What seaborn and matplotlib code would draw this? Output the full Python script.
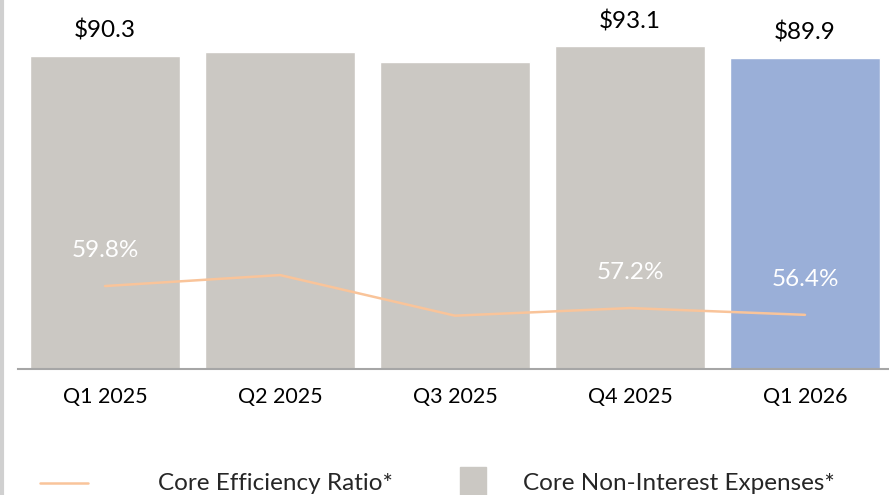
import numpy as np
import pandas as pd
import seaborn as sns
import matplotlib
matplotlib.use("Agg")
import matplotlib.pyplot as plt
from matplotlib.lines import Line2D
from matplotlib.patches import Rectangle

quarters = ["Q1 2025", "Q2 2025", "Q3 2025", "Q4 2025", "Q1 2026"]
expenses = [90.3, 91.5, 88.6, 93.1, 89.9]
efficiency = [59.8, 61.1, 56.3, 57.2, 56.4]
show_label = [True, False, False, True, True]
bar_colors = ["#CBC8C3", "#CBC8C3", "#CBC8C3", "#CBC8C3", "#9AAFD8"]
line_color = "#F9C49A"

sns.set_theme(style="white")
plt.rcParams['font.family'] = ['Lato', 'DejaVu Sans']

fig = plt.figure(figsize=(8.89, 4.95), dpi=100)
ax = fig.add_axes([18/889, 126/495, 871/889, 369/495])

df = pd.DataFrame({"q": quarters, "v": expenses})
sns.barplot(data=df, x="q", y="v", hue="q", palette=bar_colors, legend=False,
            width=0.857, ax=ax, saturation=1)
ax.set_xlim(-0.497, 4.48)
ax.set_ylim(0, 106.5)
ax.set_xlabel("")
ax.set_ylabel("")
ax.set_yticks([])
for s in ["top", "right", "left"]:
    ax.spines[s].set_visible(False)
ax.spines["bottom"].set_color("#A6A6A6")
ax.spines["bottom"].set_linewidth(1.5)
ax.tick_params(axis="x", length=0, pad=13, labelsize=15.5, colors="black")

for i, (v, sh) in enumerate(zip(expenses, show_label)):
    if sh:
        ax.text(i, v + 7.3, f"${v:.1f}", ha="center", va="center", fontsize=17.5, color="black")

ax2 = ax.twinx()
sns.lineplot(x=np.arange(len(quarters)), y=efficiency, ax=ax2, color=line_color, linewidth=1.8)
ax2.set_ylim(50, 93.6)
ax2.set_xlim(-0.497, 4.48)
ax2.set_yticks([])
for s in ["top", "right", "left", "bottom"]:
    ax2.spines[s].set_visible(False)
for i, (v, sh) in enumerate(zip(efficiency, show_label)):
    if sh:
        ax2.text(i, v + 4.2, f"{v:.1f}%", ha="center", va="center", fontsize=17.5, color="white")

# left gray border
fig.add_artist(Line2D([1.5/889, 1.5/889], [0, 1], color="#D0D0D0", linewidth=3))

# legend
ly = 1 - 483/495
fig.add_artist(Line2D([40/889, 88/889], [ly, ly], color=line_color, linewidth=1.8))
fig.text(158/889, ly, "Core Efficiency Ratio*", ha="left", va="center", fontsize=17.5)
fig.add_artist(Rectangle((460/889, 0), 26/889, 28/495, color="#CBC8C3", transform=fig.transFigure))
fig.text(523/889, ly, "Core Non-Interest Expenses*", ha="left", va="center", fontsize=17.5)

fig.savefig("out.png", dpi=100)
